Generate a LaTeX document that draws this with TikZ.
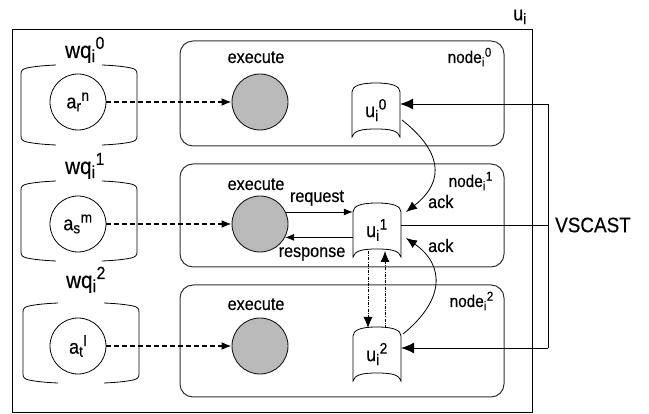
\documentclass[tikz,border=0pt]{standalone}
\usepackage{fontspec}
\setmainfont{Liberation Sans}[FakeStretch=0.9,FakeBold=0.35]
\renewcommand\defaultscriptratio{.76}
\usetikzlibrary{arrows.meta,calc}
\newcommand\ssb[2]{\textsubscript{#1}\textsuperscript{#2}}
\begin{document}
\begin{tikzpicture}[x=1pt,y=-1pt,
  every node/.style={inner sep=0pt},
  txt/.style={font=\fontsize{18}{20}\selectfont},
  nlbl/.style={font=\fontsize{17}{19}\selectfont},
  bigtxt/.style={font=\fontsize{20}{22}\selectfont},
  wqtxt/.style={font=\fontsize{23}{25}\selectfont},
  vtxt/.style={font=\fontsize{21}{23}\selectfont},
  outerbox/.style={draw, line width=0.9pt},
  nodebox/.style={draw=black!80, line width=1pt, rounded corners=13pt},
  acirc/.style={circle, draw, line width=0.8pt, minimum size=56pt, bigtxt},
  gcirc/.style={circle, draw=black!90, fill=black!27, line width=0.9pt, minimum size=56pt},
  ubox/.style={minimum width=48pt, minimum height=54pt, font=\fontsize{20}{22}\selectfont},
  outl/.style={draw, line width=0.8pt},
  conn/.style={line width=0.8pt},
  dasharr/.style={line width=1.8pt, dash pattern=on 5pt off 3pt, -{Latex[length=10pt,width=8pt]}},
  bigtip/.style={-{Latex[length=13pt,width=11pt]}},
  midtip/.style={-{Latex[length=11pt,width=9pt]}},
  smalltip/.style={-{Latex[length=9pt,width=7pt]}},
  dd/.style={dash pattern=on 3pt off 1.2pt on 1pt off 1.2pt},
  wqbr/.pic={
    \draw[outl] (-23,-40) .. controls (-35,-39.5) and (-45,-38.5) .. (-52,-37)
      .. controls (-56,-36) and (-58,-35) .. (-58,-31) -- (-58,31)
      .. controls (-58,35) and (-56,36) .. (-52,37)
      .. controls (-45,38.5) and (-35,39.5) .. (-23,40);
    \draw[outl] (23,-40) .. controls (35,-39.5) and (45,-38.5) .. (52,-37)
      .. controls (56,-36) and (58,-35) .. (58,-31) -- (58,31)
      .. controls (58,35) and (56,36) .. (52,37)
      .. controls (45,38.5) and (35,39.5) .. (23,40);
  },
  ushp/.pic={
    \draw[outl] (-24,-18) .. controls (-24,-24) and (-16,-27) .. (0,-27)
      .. controls (16,-27) and (24,-24) .. (24,-18) -- (24,27)
      .. controls (22,21) and (16,19) .. (0,19)
      .. controls (-16,19) and (-22,21) .. (-24,27) -- cycle;
  },
]
\useasboundingbox (0,0) rectangle (649,414);

% outer box
\draw[outerbox] (12,29) rectangle (532,412);
\node[bigtxt] (ulabel) at (520,17) {u\textsubscript{i}};

% node boxes
\draw[nodebox] (180,41) rectangle (504,146);
\draw[nodebox] (180,164) rectangle (504,267);
\draw[nodebox] (180,285) rectangle (504,397);
\node[nlbl, anchor=base east] (nl0) at (492,63) {node\ssb{i}{0}};
\node[nlbl, anchor=base east] (nl1) at (493,187) {node\ssb{i}{1}};
\node[nlbl, anchor=base east] (nl2) at (494,307) {node\ssb{i}{2}};

% execute labels
\node[txt, anchor=base] (ex0) at (256,63) {execute};
\node[txt, anchor=base] (ex1) at (256,190) {execute};
\node[txt, anchor=base] (ex2) at (256,310) {execute};

% work queues
\pic at (79,105) {wqbr};
\pic at (79,221) {wqbr};
\pic at (81,343) {wqbr};
\node[wqtxt, anchor=base] (wql0) at (85,58) {wq\ssb{i}{0}};
\node[wqtxt, anchor=base] (wql1) at (85,174) {wq\ssb{i}{1}};
\node[wqtxt, anchor=base] (wql2) at (86,288) {wq\ssb{i}{2}};

% circles
\node[acirc] (a0) at (78,102) {a\ssb{r}{n}};
\node[acirc] (a1) at (78,224) {a\ssb{s}{m}};
\node[acirc] (a2) at (78,346) {a\ssb{t}{l}};
\node[gcirc] (g0) at (260,102) {};
\node[gcirc] (g1) at (260,224) {};
\node[gcirc] (g2) at (260,346) {};

\draw[dasharr] (a0) -- (g0);
\draw[dasharr] (a1) -- (g1);
\draw[dasharr] (a2) -- (g2);

% u shapes
\node[ubox] (u0) at (376,110) {u\ssb{i}{0}};
\node[ubox] (u1) at (377,230) {u\ssb{i}{1}};
\node[ubox] (u2) at (377,354) {u\ssb{i}{2}};
\pic at (u0.center) {ushp};
\pic at (u1.center) {ushp};
\pic at (u2.center) {ushp};

% request / response
\draw[conn, smalltip] (g1.25) -- (g1.25 -| u1.west);
\draw[conn, smalltip] (g1.-28 -| u1.west) -- (g1.-28);
\node[txt, anchor=base] (req) at (317,202) {request};
\node[txt, anchor=base] (resp) at (312,257) {response};

% VSCAST
\coordinate (v0) at (548,104);
\coordinate (v1) at (548,225);
\coordinate (v2) at (548,348);
\draw[conn] (v0) -- (v2);
\draw[conn, bigtip] (v0) -- (v0 -| u0.east);
\draw[conn, bigtip] (v2) -- (v2 -| u2.east);
\draw[conn] (v1) -- (v1 -| u1.east);
\node[vtxt, anchor=west] (vs) at (555,225) {VSCAST};

% ack curves
\draw[conn, midtip] ($(u0.center)+(26,10)$) .. controls ($(u0.center)+(64,40)$) and ($(u1.center)+(70,-50)$) .. ($(u1.center)+(29,-18)$);
\draw[conn, midtip] ($(u2.center)+(26,-20)$) .. controls ($(u2.center)+(68,-54)$) and ($(u1.center)+(68,35)$) .. ($(u1.center)+(29,8)$);
\node[txt, anchor=base west] (ack1) at (428,208) {ack};
\node[txt, anchor=base west] (ack2) at (428,252) {ack};

% vertical arrows
\draw[conn, dd, midtip] ($(u1.center)+(-9,21)$) -- ($(u2.center)+(-9,-26)$);
\draw[conn, dd, midtip] ($(u2.center)+(8,-26)$) -- ($(u1.center)+(8,21)$);
\end{tikzpicture}
\end{document}
